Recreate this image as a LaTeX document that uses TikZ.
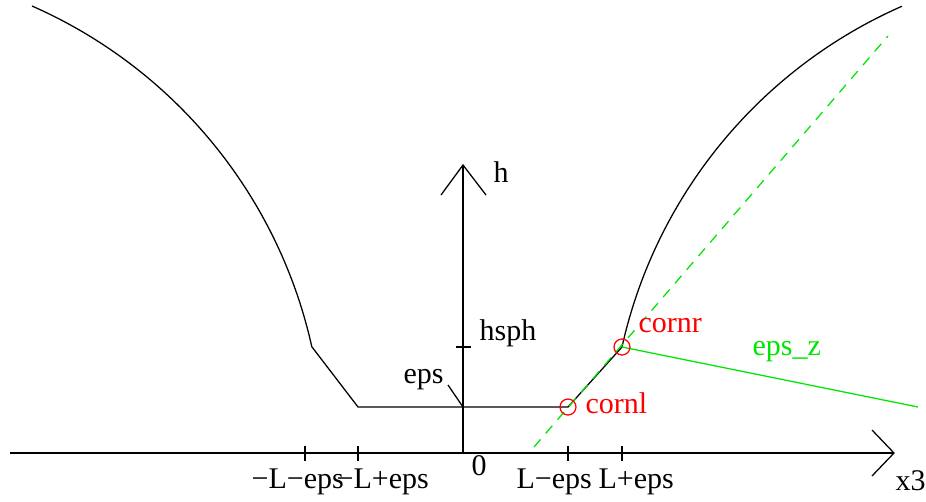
\documentclass[tikz,border=0pt]{standalone}
\usepackage{fontspec}
\setmainfont{Liberation Serif}
\definecolor{xgreen}{RGB}{0,230,0}
\definecolor{xred}{RGB}{255,0,0}
\begin{document}
\begin{tikzpicture}[x=0.75pt,y=-0.75pt,
  line width=0.95pt,
  lbl/.style={font=\fontsize{22.5}{25}\selectfont, inner sep=0pt, anchor=base west},
  corner/.style={draw=xred, circle, minimum size=12pt, inner sep=0pt, line width=0.95pt},
  tick/.style={line width=0.95pt}]
\useasboundingbox (0,0) rectangle (926,501);
% coordinates
\coordinate (ltop) at (32,6);
\coordinate (lbot) at (312,347);
\coordinate (lflat) at (358,407);
\coordinate (epsp) at (463,407);
\coordinate (cl) at (568,407);
\coordinate (cr) at (622,347);
\coordinate (rtop) at (902,6);
\coordinate (xs) at (10,453);
\coordinate (xe) at (894,453);
\coordinate (o) at (463,453);
\coordinate (ye) at (463,165);
% axes
\draw (xs) -- (xe);
\draw (872,430) -- (xe) -- (872,476);
\draw (o) -- (ye);
\draw (441,195) -- (ye) -- (486,195);
% ticks
\foreach \xx in {305,358,568,622} \draw[tick] (\xx,446) -- (\xx,461);
\draw[tick] (456,347) -- (471,347);
\draw[tick] (448,385) -- (epsp);
% profile
\draw (ltop) arc[start angle=-66.25, end angle=-12.54, radius=488] -- (lflat) -- (cl) -- (cr)
      arc[start angle=-167.46, end angle=-113.75, radius=488];
% green lines
\coordinate (gd1) at (534,447);
\coordinate (gd2) at (888,36);
\draw[xgreen, dash pattern=on 7.5pt off 6pt] (gd1) -- (gd2);
\coordinate (gz) at (918,407);
\draw[xgreen] (cr) -- (gz);
% corner circles
\node[corner] (ncl) at (cl) {};
\node[corner] (ncr) at (cr) {};
% labels
\node[lbl] (lh) at (493,182) {h};
\node[lbl] (lhsph) at (479,340) {hsph};
\node[lbl] (leps) at (403,383) {eps};
\node[lbl, anchor=base] (l0) at (479,475) {0};
\node[lbl] (lx3) at (895,490) {x3};
\node[lbl] (lmle) at (251,488) {\char"2212 L\char"2212 eps};
\node[lbl] (lmlp) at (336,488) {\char"2212 L+eps};
\node[lbl] (lle) at (516,488) {L\char"2212 eps};
\node[lbl] (llp) at (598,488) {L+eps};
\node[lbl, text=xred] (lcl) at (585,413) {cornl};
\node[lbl, text=xred] (lcr) at (638,332) {cornr};
\node[lbl, text=xgreen] (lez) at (752,355) {eps\_z};
\end{tikzpicture}
\end{document}
